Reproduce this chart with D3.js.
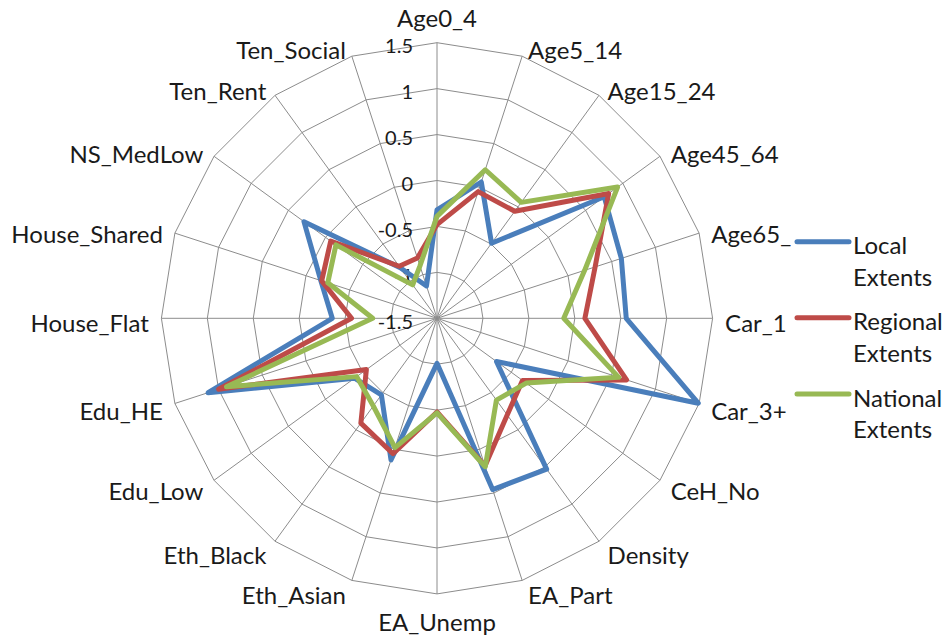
<!DOCTYPE html>
<html>
<head>
<meta charset="utf-8">
<script src="https://cdn.jsdelivr.net/npm/d3@7/dist/d3.min.js"></script>
<style>
  body { margin: 0; background: #ffffff; }
  text { font-family: Lato, "Open Sans", sans-serif; fill: #1a1a1a; }
</style>
</head>
<body>
<svg id="chart" width="946" height="638"></svg>
<script>
// Radar axes, clockwise from the top
const categories = [
  "Age0_4", "Age5_14", "Age15_24", "Age45_64", "Age65_", "Car_1", "Car_3+",
  "CeH_No", "Density", "EA_Part", "EA_Unemp", "Eth_Asian", "Eth_Black",
  "Edu_Low", "Edu_HE", "House_Flat", "House_Shared", "NS_MedLow",
  "Ten_Rent", "Ten_Social"
];

// Standardised scores per series
const localExtents = [
  -0.32, 0.06, -0.49, 0.75, 0.61, 0.56, 1.49, -0.70, 0.53, 0.46,
  -1.01, 0.12, -0.47, -0.39, 1.12, -0.36, -0.17, 0.29, -0.82, -1.13
];
const regionalExtents = [
  -0.48, -0.05, -0.06, 0.81, 0.31, 0.11, 0.67, -0.35, -0.20, 0.19,
  -0.48, 0.05, -0.09, -0.55, 1.00, -0.57, -0.18, -0.07, -0.80, -0.81
];
const nationalExtents = [
  -0.39, 0.20, 0.06, 0.93, 0.19, -0.12, 0.58, -0.30, -0.40, 0.20,
  -0.47, -0.02, -0.32, -0.42, 0.91, -0.80, -0.25, -0.14, -1.05, -0.90
];

const tickValues = [-1.5, -1, -0.5, 0, 0.5, 1, 1.5];
const tickLabels = ["-1.5", "-1", "-0.5", "0", "0.5", "1", "1.5"];

const seriesNames = [["Local", "Extents"], ["Regional", "Extents"], ["National", "Extents"]];
const seriesColors = ["#4A7EBB", "#BE4B48", "#98B954"];
const seriesValues = [localExtents, regionalExtents, nationalExtents];

// Layout
const cx = 437, cy = 318.3, R = 275.6;
const catFont = 24, tickFont = 20, legendFont = 24;

const svg = d3.select("#chart");
const g = svg.append("g").attr("transform", `translate(${cx},${cy})`);

const rScale = d3.scaleLinear().domain([tickValues[0], tickValues[tickValues.length - 1]]).range([0, R]);
const n = categories.length;
const angle = d3.scaleLinear().domain([0, n]).range([0, 2 * Math.PI]);

// Polygonal grid rings
const ringLine = d3.lineRadial()
  .angle((d, i) => angle(i))
  .radius(d => rScale(d))
  .curve(d3.curveLinearClosed);

g.append("g").attr("class", "rings")
  .selectAll("path")
  .data(tickValues.slice(1))
  .join("path")
  .attr("d", v => ringLine(categories.map(() => v)))
  .attr("fill", "none")
  .attr("stroke", "#8c8c8c")
  .attr("stroke-width", 1);

// Spokes
g.append("g").attr("class", "spokes")
  .selectAll("line")
  .data(categories)
  .join("line")
  .attr("x1", 0).attr("y1", 0)
  .attr("x2", (d, i) => R * Math.sin(angle(i)))
  .attr("y2", (d, i) => -R * Math.cos(angle(i)))
  .attr("stroke", "#8c8c8c")
  .attr("stroke-width", 1);

// Value axis labels along the top spoke
g.append("g").attr("class", "ticks")
  .selectAll("text")
  .data(tickValues)
  .join("text")
  .attr("x", -24)
  .attr("y", v => -rScale(v) + 3.5 + 0.358 * tickFont)
  .attr("text-anchor", "end")
  .attr("font-size", tickFont)
  .text((v, i) => tickLabels[i]);

// Series outlines
const seriesLine = d3.lineRadial()
  .angle((d, i) => angle(i))
  .radius(d => rScale(d))
  .curve(d3.curveLinearClosed);

g.append("g").attr("class", "series")
  .selectAll("path")
  .data(seriesValues)
  .join("path")
  .attr("d", d => seriesLine(d))
  .attr("fill", "none")
  .attr("stroke", (d, i) => seriesColors[i])
  .attr("stroke-width", 5)
  .attr("stroke-linejoin", "round");

// Category labels around the outer ring
g.append("g").attr("class", "categories")
  .selectAll("text")
  .data(categories)
  .join("text")
  .each(function (d, i) {
    const a = angle(i);
    const s = Math.sin(a), c = Math.cos(a);
    const vx = R * s, vy = -R * c;
    const vertical = Math.abs(s) < 0.1;
    let x = vx, anchor = "middle";
    if (!vertical) {
      x = vx + Math.sign(s) * (3 + 9.5 * Math.abs(s));
      anchor = s > 0 ? "start" : "end";
    }
    let capsCenter = vy + 5 - (vertical ? 24 : 11) * c;
    if (vertical && c > 0) capsCenter -= 5;
    d3.select(this)
      .attr("x", x)
      .attr("y", capsCenter + 0.358 * catFont)
      .attr("text-anchor", anchor)
      .attr("font-size", catFont)
      .text(d);
  });

// Legend
const legend = svg.append("g").attr("class", "legend");
const legendY = [241.7, 317.7, 394];
seriesNames.forEach((lines, i) => {
  const y = legendY[i];
  legend.append("line")
    .attr("x1", 797).attr("x2", 849)
    .attr("y1", y).attr("y2", y)
    .attr("stroke", seriesColors[i])
    .attr("stroke-width", 5)
    .attr("stroke-linecap", "round");
  lines.forEach((t, k) => {
    legend.append("text")
      .attr("x", 853)
      .attr("y", y + 4 + k * 31.6 + 0.358 * legendFont)
      .attr("font-size", legendFont)
      .text(t);
  });
});
</script>
</body>
</html>
